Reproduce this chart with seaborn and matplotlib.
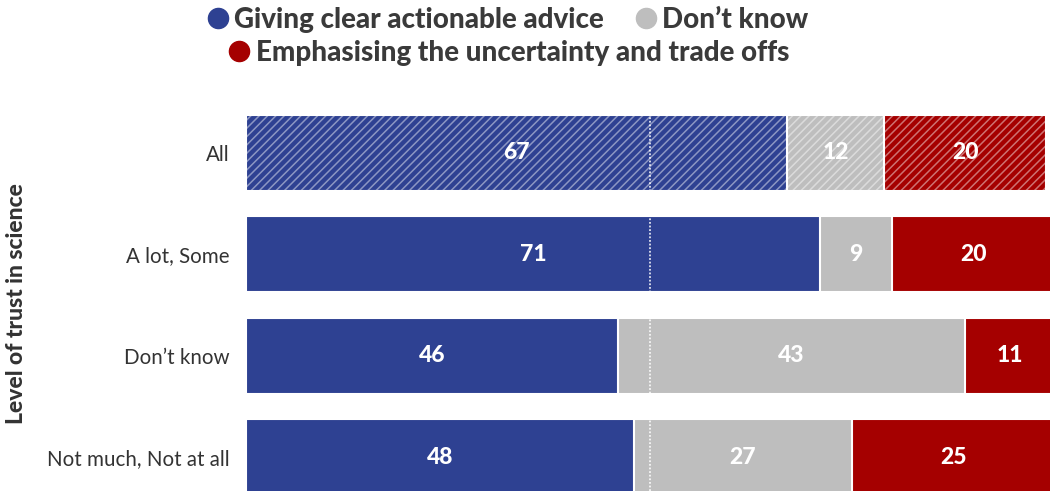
import matplotlib
matplotlib.use("Agg")
import matplotlib.pyplot as plt
from matplotlib.lines import Line2D
import numpy as np
import pandas as pd
import seaborn as sns

categories = ["All", "A lot, Some", "Don’t know", "Not much, Not at all"]
advice = [67, 71, 46, 48]
dont_know = [12, 9, 43, 27]
uncertainty = [20, 20, 11, 25]

series_names = ["Giving clear actionable advice", "Don’t know",
                "Emphasising the uncertainty and trade offs"]
colors = ["#2E4192", "#BEBEBE", "#A50000"]

sns.set_theme(style="white")
plt.rcParams["font.family"] = ["Lato", "DejaVu Sans"]
plt.rcParams["hatch.linewidth"] = 1.1

df = pd.DataFrame({"category": categories, "advice": advice,
                   "dont_know": dont_know, "uncertainty": uncertainty})
df["c1"] = df["advice"]
df["c2"] = df["advice"] + df["dont_know"]
df["c3"] = df["c2"] + df["uncertainty"]

fig = plt.figure(figsize=(10.5, 4.91), dpi=100)
ax = fig.add_axes([246 / 1050, 0.0, 1 - 246 / 1050, 1 - 102 / 491])

# stacked bars drawn as overlapping cumulative layers, widest first
for col, color in zip(["c3", "c2", "c1"], colors[::-1]):
    sns.barplot(data=df, x=col, y="category", order=categories, orient="h",
                color=color, saturation=1, width=0.75, edgecolor="white",
                linewidth=1.5, ax=ax)

# diagonal hatching on the overall row
sns.barplot(data=df.iloc[[0]], x="c3", y="category", order=categories,
            orient="h", color=(0, 0, 0, 0), saturation=1, width=0.75,
            edgecolor=(1, 1, 1, 0.45), linewidth=0, hatch="////", ax=ax)

ax.axvline(50, color="white", ls=(0, (1, 1)), lw=1.3, alpha=0.85, zorder=5)

# value labels centred in each segment
for i, cat in enumerate(categories):
    starts = [0, df.loc[i, "c1"], df.loc[i, "c2"]]
    vals = [advice[i], dont_know[i], uncertainty[i]]
    for s, v in zip(starts, vals):
        ax.text(s + v / 2, i, f"{v}", ha="center", va="center", color="white",
                fontsize=16.5, fontweight="black", zorder=6)

ax.set_xlim(0, 99.5)
ax.set_ylim(3.335, -0.5)
ax.set_xlabel("")
ax.set_xticks([])
ax.tick_params(axis="y", length=0, pad=12, labelsize=14.8, labelcolor="#333333")
ax.set_ylabel("Level of trust in science", fontsize=16.5, fontweight="black",
              color="#333333")
ax.yaxis.set_label_coords(-0.273, 0.483)
sns.despine(ax=ax, left=True, bottom=True)

def handle(c):
    return Line2D([], [], marker="o", ls="", markersize=14.5, color=c)

leg_kw = dict(frameon=False, fontsize=20, handletextpad=0.1,
              borderpad=0, handlelength=1.0)
leg1 = fig.legend([handle(colors[0]), handle(colors[1])], series_names[:2],
                  ncol=2, loc="center", columnspacing=1.0,
                  bbox_to_anchor=(0.482, 1 - 20 / 491), **leg_kw)
leg2 = fig.legend([handle(colors[2])], series_names[2:], ncol=1, loc="center",
                  bbox_to_anchor=(0.483, 1 - 53 / 491), **leg_kw)
for leg in (leg1, leg2):
    for t in leg.get_texts():
        t.set_fontweight("black")
        t.set_color("#3a3a3a")

fig.savefig("out.png", dpi=100)
